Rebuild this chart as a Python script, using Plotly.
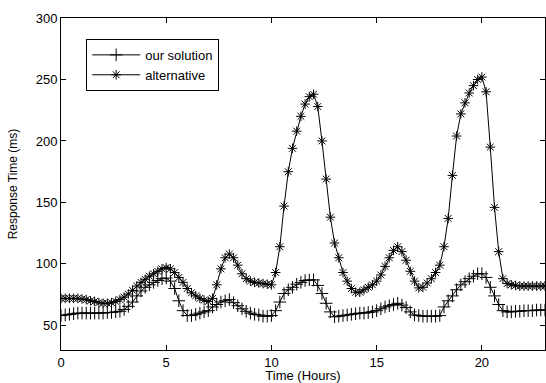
import plotly.graph_objects as go

# sampling every 0.2 hours from 0 to 23
n_points = 116
step_hours = 0.2
time_hours = [round(i * step_hours, 1) for i in range(n_points)]

our_solution = [
    58, 58.5, 59, 59.5, 60, 60, 60, 60, 60, 60,
    60, 60.5, 60.5, 61, 61.5, 63, 65.5, 69, 74, 78,
    81, 83, 85, 86.5, 88, 88.5, 86, 80, 70, 62,
    58, 58, 59, 60, 61, 62, 65, 67, 69, 70,
    71, 68.5, 66, 63.5, 61.5, 60, 59, 58.5, 57.5, 57.5,
    58, 62, 69, 76, 79, 81, 83.5, 85, 86.5, 87,
    87, 82.5, 76, 68, 61, 57, 57.5, 58, 58.5, 59,
    59.5, 60, 60, 60.5, 61, 62, 63.5, 65, 66, 67,
    68, 66.5, 64.5, 61, 58.5, 58, 57.5, 57.5, 57.5, 57.5,
    58, 65, 70, 74, 79, 83, 85.5, 88, 90, 92,
    92, 89, 81, 74, 67, 62, 61, 61, 61.5, 61.5,
    62, 62, 62, 62.5, 62.5, 62.5,
]

alternative = [
    72, 72, 72, 72, 72, 71.5, 71, 70, 69.5, 68.5,
    68, 68, 68.5, 69.5, 71, 73, 75.5, 78.5, 82, 85,
    87.5, 90, 92, 94, 96, 97, 96, 93, 89, 85,
    80, 76.5, 74, 72, 70.5, 69.5, 72, 83, 96, 105,
    108, 105, 99, 92, 88, 86, 85, 84.5, 84, 83.5,
    83, 93, 114, 147, 175, 194, 208, 220, 230, 236,
    238, 228, 200, 169, 138, 117, 105, 93, 86, 80,
    77, 77, 79, 81, 83, 86, 91, 98, 105, 111,
    114, 110, 103, 94, 86, 80.5, 81, 84.5, 88, 93,
    99, 114, 137, 172, 204, 222, 231, 239, 245, 250,
    252, 240, 195, 146, 110, 88, 84, 83, 82.5, 82,
    82, 82, 82, 82, 82, 82,
]

x_ticks = [0, 5, 10, 15, 20]
y_ticks = [50, 100, 150, 200, 250, 300]

FONT = "Liberation Sans, Arial, Helvetica, sans-serif"

fig = go.Figure()
fig.add_trace(go.Scatter(
    x=time_hours, y=our_solution, name="our solution",
    mode="lines+markers",
    line=dict(color="black", width=1),
    marker=dict(symbol="cross-thin-open", size=9,
                line=dict(color="#222222", width=1), color="black"),
))
fig.add_trace(go.Scatter(
    x=time_hours, y=alternative, name="alternative",
    mode="lines+markers",
    line=dict(color="black", width=1),
    marker=dict(symbol="asterisk-open", size=8,
                line=dict(color="#222222", width=1), color="black"),
))

axis_common = dict(
    showline=True, linecolor="black", linewidth=1, mirror="ticks",
    ticks="inside", ticklen=5, tickcolor="black", tickwidth=1,
    showgrid=False, zeroline=False,
    tickfont=dict(family=FONT, size=13, color="black"),
)

fig.update_layout(
    width=546, height=383,
    margin=dict(l=61, r=1, t=18, b=33),
    paper_bgcolor="white", plot_bgcolor="white",
    font=dict(family=FONT, size=13, color="black"),
    xaxis=dict(range=[0, 23], tickvals=x_ticks,
               title=dict(text="Time (Hours)", standoff=2,
                          font=dict(family=FONT, size=13)),
               **axis_common),
    yaxis=dict(range=[30, 300], tickvals=y_ticks,
               title=dict(text="Response Time (ms)", standoff=15,
                          font=dict(family=FONT, size=12)),
               **axis_common),
    legend=dict(x=0.052, y=0.937, xanchor="left", yanchor="top",
                bgcolor="white", bordercolor="black", borderwidth=1,
                font=dict(family=FONT, size=13), tracegroupgap=0,
                itemwidth=48),
    showlegend=True,
)

fig.write_html("out.html")
